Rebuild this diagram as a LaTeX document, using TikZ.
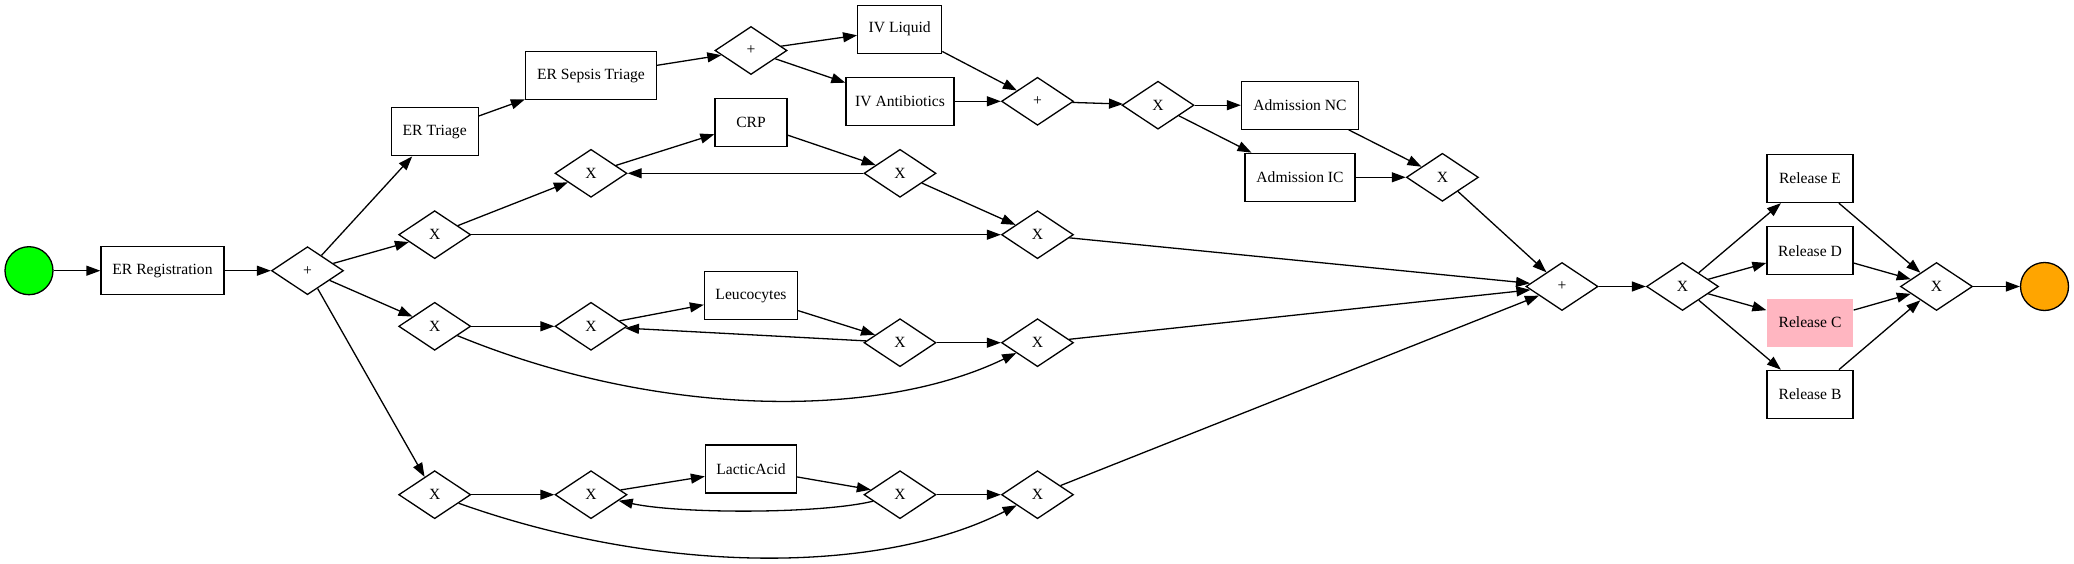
\documentclass[tikz,border=0pt]{standalone}
\usepackage{fontspec}
\setmainfont{Liberation Serif}
\usetikzlibrary{shapes.geometric,arrows.meta}
\begin{document}
\begin{tikzpicture}[x=1pt,y=-1pt,
  every node/.style={font=\fontsize{15.6pt}{18pt}\selectfont, line width=1.3pt},
  task/.style={rectangle,draw,minimum height=48pt,inner sep=0pt},
  gw/.style={diamond,draw,minimum width=72pt,minimum height=48pt,inner sep=0pt},
  ev/.style={circle,draw,minimum size=48pt,inner sep=0pt},
  arr/.style={-{Triangle[length=14pt,width=10pt]},line width=1.3pt}]
\useasboundingbox (0,0) rectangle (2074,564);
% events
\node[ev,fill={rgb,255:red,0;green,255;blue,0}] (start) at (29,270.7) {};
\node[ev,fill={rgb,255:red,255;green,165;blue,0}] (end) at (2044.5,286.5) {};
% main line
\node[task,minimum width=123pt] (reg) at (162.5,270.7) {ER Registration};
\node[gw] (pA) at (307.5,270.7) {+};
\node[task,minimum width=87pt] (triage) at (434.7,131.8) {ER Triage};
\node[task,minimum width=131pt] (sepsis) at (591,75.7) {ER Sepsis Triage};
\node[gw] (pB) at (751,50.5) {+};
\node[task,minimum width=84pt] (ivl) at (899.7,29.2) {IV Liquid};
\node[task,minimum width=108pt] (iva) at (900,101.3) {IV Antibiotics};
\node[gw] (pC) at (1037.5,101.3) {+};
\node[gw] (xA) at (1158,105.2) {X};
\node[task,minimum width=117pt] (admnc) at (1300,105.2) {Admission NC};
\node[task,minimum width=110pt] (admic) at (1300,177.3) {Admission IC};
\node[gw] (xB) at (1442.4,177.3) {X};
\node[gw] (pD) at (1562,286.5) {+};
\node[gw] (xR) at (1682.5,286.5) {X};
\node[task,minimum width=86pt] (relE) at (1810,178.5) {Release E};
\node[task,minimum width=86pt] (relD) at (1810,250.7) {Release D};
\node[task,minimum width=86pt,draw=none,fill={rgb,255:red,255;green,182;blue,193}] (relC) at (1810,322.5) {Release C};
\node[task,minimum width=86pt] (relB) at (1810,394.3) {Release B};
\node[gw] (xM) at (1936.5,286.5) {X};
% branch 1 (CRP)
\node[gw] (x1s) at (434.7,234.7) {X};
\node[gw] (x1a) at (591,173.3) {X};
\node[task,minimum width=72pt] (crp) at (751,122.7) {CRP};
\node[gw] (x1b) at (900,173.3) {X};
\node[gw] (x1m) at (1037.5,234.7) {X};
% branch 2 (Leucocytes)
\node[gw] (x2s) at (434.7,326.3) {X};
\node[gw] (x2a) at (591,326.3) {X};
\node[task,minimum width=93pt] (leu) at (751,295.8) {Leucocytes};
\node[gw] (x2b) at (900,342.7) {X};
\node[gw] (x2m) at (1037.5,342.7) {X};
% branch 3 (LacticAcid)
\node[gw] (x3s) at (434.7,494.7) {X};
\node[gw] (x3a) at (591,494.7) {X};
\node[task,minimum width=91pt] (lac) at (751,469) {LacticAcid};
\node[gw] (x3b) at (900,494.7) {X};
\node[gw] (x3m) at (1037.5,494.7) {X};
% edges
\draw[arr] (start) -- (reg);
\draw[arr] (reg) -- (pA);
\draw[arr] (pA) -- (triage);
\draw[arr] (pA) -- (x1s);
\draw[arr] (pA) -- (x2s);
\draw[arr] (pA) -- (x3s);
\draw[arr] (triage) -- (sepsis);
\draw[arr] (sepsis) -- (pB);
\draw[arr] (pB) -- (ivl);
\draw[arr] (pB) -- (iva);
\draw[arr] (ivl) -- (pC);
\draw[arr] (iva) -- (pC);
\draw[arr] (pC) -- (xA);
\draw[arr] (xA) -- (admnc);
\draw[arr] (xA) -- (admic);
\draw[arr] (admnc) -- (xB);
\draw[arr] (admic) -- (xB);
\draw[arr] (xB) -- (pD);
% branch 1
\draw[arr] (x1s) -- (x1a);
\draw[arr] (x1s) -- (x1m);
\draw[arr] (x1a) -- (crp);
\draw[arr] (crp) -- (x1b);
\draw[arr] (x1b) -- (x1a);
\draw[arr] (x1b) -- (x1m);
\draw[arr] (x1m) -- (pD);
% branch 2
\draw[arr] (x2s) -- (x2a);
\draw[arr] (x2s) .. controls (660,419) and (880,419) .. (x2m);
\draw[arr] (x2a) -- (leu);
\draw[arr] (leu) -- (x2b);
\draw[arr] (x2b) -- (x2a);
\draw[arr] (x2b) -- (x2m);
\draw[arr] (x2m) -- (pD);
% branch 3
\draw[arr] (x3s) -- (x3a);
\draw[arr] (x3s) .. controls (660,575) and (880,575) .. (x3m);
\draw[arr] (x3a) -- (lac);
\draw[arr] (lac) -- (x3b);
\draw[arr] (x3b) .. controls (820,514) and (680,514) .. (x3a);
\draw[arr] (x3b) -- (x3m);
\draw[arr] (x3m) -- (pD);
% release part
\draw[arr] (pD) -- (xR);
\draw[arr] (xR) -- (relE);
\draw[arr] (xR) -- (relD);
\draw[arr] (xR) -- (relC);
\draw[arr] (xR) -- (relB);
\draw[arr] (relE) -- (xM);
\draw[arr] (relD) -- (xM);
\draw[arr] (relC) -- (xM);
\draw[arr] (relB) -- (xM);
\draw[arr] (xM) -- (end);
\end{tikzpicture}
\end{document}
